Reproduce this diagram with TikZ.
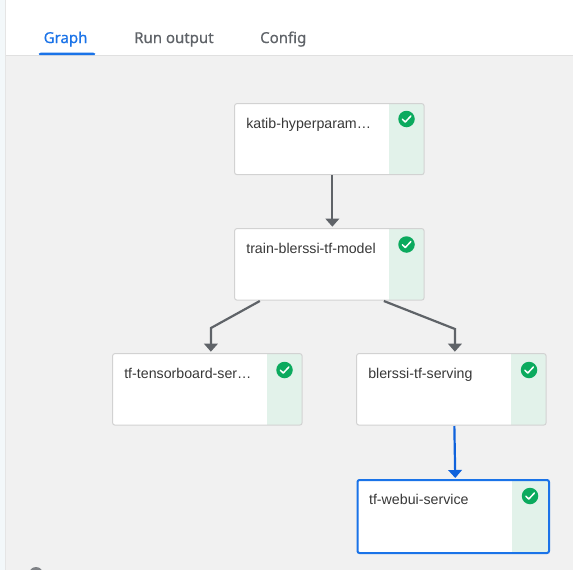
\documentclass[tikz,border=0pt]{standalone}
\usepackage{fontspec}
\setmainfont{Liberation Sans}
\newfontfamily\tabfont[FakeBold=0.5]{Noto Sans}
\usetikzlibrary{arrows.meta}
\definecolor{pagegray}{HTML}{F1F1F1}
\definecolor{stripgreen}{HTML}{E2F2EA}
\definecolor{okgreen}{HTML}{0BAA5E}
\definecolor{edgegray}{HTML}{5F6368}
\definecolor{edgeblue}{HTML}{0F62DC}
\definecolor{selblue}{HTML}{1A73E8}
\definecolor{boxline}{HTML}{D2D2D2}
\definecolor{tabgray}{HTML}{5F6368}
\definecolor{sidetint}{HTML}{F3F8FA}
\tikzset{
  x=1pt,y=-1pt,
  tasklabel/.style={anchor=base west,inner sep=0pt,font=\fontsize{14.2}{16}\selectfont,text=black!78},
  tabtext/.style={anchor=base west,inner sep=0pt,font=\fontsize{15}{17}\selectfont\tabfont},
  flow/.style={edgegray,line width=2.2pt,-{Triangle[length=8pt,width=13.5pt]}},
  flowsel/.style={flow,edgeblue},
  checkmark/.style={white,line width=1.5pt,line cap=round,line join=round}
}
\newcommand{\taskbox}[8]{% name x1 y1 x2 y2 stripx label linecolor
  \fill[white,rounded corners=2pt] (#2,#3) rectangle (#4,#5);
  \fill[stripgreen] (#6,#3) rectangle (#4,#5);
  \node[inner sep=0pt,outer sep=0pt,minimum width=#4pt-#2pt,minimum height=#5pt-#3pt,anchor=north west] (#1) at (#2,#3) {};
  \draw[#8,rounded corners=2pt] (#2,#3) rectangle (#4,#5);
  \node[tasklabel] (#1text) at (#2+11.4,#3+24.6) {#7};
}
\newcommand{\okicon}[3]{% name cx cy
  \node[circle,fill=okgreen,inner sep=0pt,minimum size=16.5pt] (#1) at (#2,#3) {};
  \draw[checkmark] (#2-4.2,#3+0.2) -- (#2-1.2,#3+3) -- (#2+4.4,#3-3);
}
\begin{document}
\begin{tikzpicture}
\useasboundingbox (0,0) rectangle (573,570);
\fill[white] (0,0) rectangle (573,570);
\fill[sidetint] (0,0) rectangle (5,570);
\fill[pagegray] (5,56) rectangle (573,570);
\draw[black!12,line width=1pt] (5,55.5) -- (573,55.5);
\draw[black!10,line width=1pt] (5,0) -- (5,570);

\node[tabtext,text=selblue] (tabgraph) at (43.5,43) {Graph};
\node[tabtext,text=tabgray] (tabrun) at (134,43) {Run output};
\node[tabtext,text=tabgray] (tabconfig) at (260,43) {Config};
\fill[selblue,rounded corners=1.5pt] (38,55) -- (39.5,52.5) -- (94.5,52.5) -- (96,55) -- cycle;

\taskbox{katib}{234.7}{103.7}{424}{174.5}{389}{katib-hyperparam…}{boxline,line width=1pt}
\taskbox{train}{234.7}{228.7}{424}{300}{389}{train-blerssi-tf-model}{boxline,line width=1pt}
\taskbox{tensor}{112.7}{353.7}{302}{425}{267}{tf-tensorboard-ser…}{boxline,line width=1pt}
\taskbox{serving}{356.7}{353.7}{546}{425}{511}{blerssi-tf-serving}{boxline,line width=1pt}
\taskbox{webui}{357.5}{480}{549}{553}{512}{tf-webui-service}{selblue,line width=2pt}

\okicon{okkatib}{406.5}{119}
\okicon{oktrain}{406.5}{244.5}
\okicon{oktensor}{284.5}{370}
\okicon{okserving}{529}{370}
\okicon{okwebui}{530}{496}

\draw[flow] ([xshift=3pt,yshift=-0.5pt]katib.south) -- ([xshift=3pt,yshift=2pt]train.north);
\coordinate (b2) at (211,328);
\coordinate (c2) at (455,329);
\draw[flow] ([xshift=-69.5pt,yshift=-1pt]train.south) -- (b2) -- ([xshift=3.5pt,yshift=2pt]tensor.north);
\draw[flow] ([xshift=54.5pt,yshift=-1pt]train.south) -- (c2) -- ([xshift=3.5pt,yshift=2pt]serving.north);
\draw[flowsel] ([xshift=3pt,yshift=-1pt]serving.south) -- ([xshift=2pt,yshift=2pt]webui.north);

\fill[tabgray!80] (36,574) circle (7);
\end{tikzpicture}
\end{document}
